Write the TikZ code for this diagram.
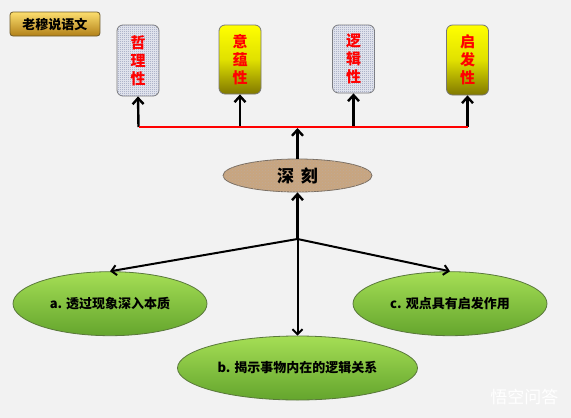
\documentclass[tikz,border=0pt]{standalone}
\usepackage{fontspec}
\newfontfamily\cjk{Noto Sans CJK SC}
\usetikzlibrary{arrows.meta,patterns,shapes.geometric}
\pgfdeclarepatternformonly{finechk}{\pgfqpoint{0pt}{0pt}}{\pgfqpoint{2pt}{2pt}}{\pgfqpoint{2pt}{2pt}}{%
  \pgfpathrectangle{\pgfqpoint{0pt}{0pt}}{\pgfqpoint{1pt}{1pt}}%
  \pgfpathrectangle{\pgfqpoint{1pt}{1pt}}{\pgfqpoint{1pt}{1pt}}%
  \pgfusepath{fill}}
\definecolor{bg}{RGB}{242,242,242}
\definecolor{goldT}{RGB}{252,222,110}
\definecolor{goldB}{RGB}{178,128,24}
\definecolor{yelT}{RGB}{255,255,0}
\definecolor{yelB}{RGB}{128,120,0}
\definecolor{grnT}{RGB}{165,222,85}
\definecolor{grnB}{RGB}{100,165,45}
\definecolor{sand}{RGB}{200,165,128}
\definecolor{sanddot}{RGB}{150,115,80}
\definecolor{patbase}{RGB}{236,238,245}
\definecolor{patc}{RGB}{140,148,178}
\definecolor{boxline}{RGB}{120,120,120}
\definecolor{goldline}{RGB}{110,90,40}
\definecolor{grnline}{RGB}{90,120,60}
\definecolor{sandline}{RGB}{120,110,100}
\tikzset{
  arr/.style={-{Straight Barb[length=6pt,width=11pt,line width=2.4pt]}, line width=2.4pt, black},
  arrb/.style={-{Straight Barb[length=5pt,width=10pt,line width=2pt]}, line width=2pt, black},
  topbox/.style={rounded corners=6pt, minimum width=42pt, minimum height=70pt, inner sep=0pt,
     draw=boxline, line width=0.8pt, align=center,
     font=\cjk\fontsize{15}{18}\selectfont\bfseries, text=red},
  patbox/.style={topbox, fill=patbase, postaction={pattern=finechk, pattern color=patc}},
  yelbox/.style={topbox, top color=yelT, bottom color=yelB, middle color=yelT!88!black},
  grn/.style={ellipse, minimum width=194pt, minimum height=64pt, inner sep=0pt,
     top color=grnT, bottom color=grnB, draw=grnline, line width=0.8pt,
     font=\cjk\fontsize{13}{15}\selectfont\bfseries}
}
\begin{document}
\begin{tikzpicture}[x=1pt,y=-1pt]
\useasboundingbox[fill=bg] (0,0) rectangle (571,418);
% title
\node[rounded corners=3pt, minimum width=90pt, minimum height=24pt, inner sep=0pt,
      top color=goldT, bottom color=goldB, draw=goldline, line width=0.8pt,
      font=\cjk\fontsize{13}{15}\selectfont\bfseries] (title) at (55,24) {老穆说语文};
% top boxes
\node[patbox, minimum height=71pt] (zhe) at (138,60.5) {哲\\理\\性};
\node[yelbox, minimum height=69pt] (yi) at (240,59.5) {意\\蕴\\性};
\node[patbox, minimum height=68pt] (luo) at (353.5,59) {逻\\辑\\性};
\node[yelbox, minimum height=70pt] (qi) at (467.5,60) {启\\发\\性};
% red bar
\coordinate (r1) at (138.5,127);
\coordinate (r2) at (240,127);
\coordinate (r3) at (353.5,127);
\coordinate (r4) at (467.5,127);
\coordinate (rc) at (297.5,128);
\draw[arr] (r1) -- (zhe.south);
\draw[arr] (r2) -- (yi.south);
\draw[arr] (r3) -- (luo.south);
\draw[arr] (r4) -- (qi.south);
\draw[red, line width=2.5pt] (r1) -- (r4);
% deep
\node[ellipse, minimum width=149pt, minimum height=33pt, inner sep=0pt, fill=sand,
      draw=sandline, line width=0.8pt,
      postaction={pattern=crosshatch dots, pattern color=sanddot!60},
      font=\cjk\fontsize{17}{19}\selectfont\bfseries] (shen) at (297.5,175.5) {深\hspace{7pt}刻};
\draw[arr] (shen.north) -- (rc);
% bottom
\node[grn] (a) at (110,303.7) {a. 透过现象深入本质};
\node[grn] (c) at (450,303.7) {c. 观点具有启发作用};
\node[grn, minimum width=240pt] (b) at (297.5,368) {b. 揭示事物内在的逻辑关系};
\coordinate (j) at (297.5,239);
\draw[arr] (j) -- (shen.south);
\draw[arrb] (j) -- (a.north);
\draw[arrb] (j) -- (c.north);
\draw[arrb] (j) -- (b.north);
% watermark
\node[font=\cjk\fontsize{17}{19}\selectfont, text=white, anchor=east] (wm) at (562,397) {悟空问答};
\end{tikzpicture}
\end{document}
